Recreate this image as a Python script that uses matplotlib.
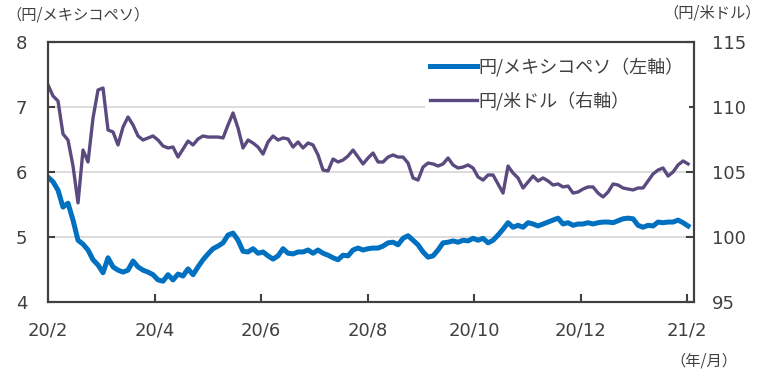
import numpy as np
import matplotlib as mpl
mpl.use('Agg')
import matplotlib.pyplot as plt

plt.rcParams['font.family'] = ['DejaVu Sans', 'Noto Sans CJK JP']

# 円/メキシコペソ (左軸)
peso = [5.92, 5.85, 5.72, 5.46, 5.52, 5.26, 4.95, 4.89, 4.80, 4.65,
        4.57, 4.45, 4.68, 4.54, 4.49, 4.46, 4.49, 4.63, 4.54, 4.49,
        4.46, 4.42, 4.34, 4.32, 4.42, 4.34, 4.43, 4.40, 4.51, 4.42,
        4.54, 4.65, 4.74, 4.82, 4.86, 4.91, 5.03, 5.06, 4.95, 4.78,
        4.77, 4.82, 4.75, 4.77, 4.71, 4.66, 4.71, 4.82, 4.75, 4.74,
        4.77, 4.77, 4.80, 4.75, 4.80, 4.75, 4.72, 4.68, 4.65, 4.72,
        4.71, 4.80, 4.83, 4.80, 4.82, 4.83, 4.83, 4.86, 4.91, 4.92,
        4.88, 4.98, 5.02, 4.95, 4.88, 4.77, 4.69, 4.71, 4.80, 4.91,
        4.92, 4.94, 4.92, 4.95, 4.94, 4.98, 4.95, 4.98, 4.91, 4.95,
        5.03, 5.12, 5.22, 5.15, 5.18, 5.15, 5.22, 5.20, 5.17, 5.20,
        5.23, 5.26, 5.29, 5.20, 5.22, 5.18, 5.20, 5.20, 5.22, 5.20,
        5.22, 5.23, 5.23, 5.22, 5.25, 5.28, 5.29, 5.28, 5.18, 5.15,
        5.18, 5.17, 5.23, 5.22, 5.23, 5.23, 5.26, 5.22, 5.17]

# 円/米ドル (右軸)
usd = [111.69, 110.85, 110.46, 107.92, 107.46, 105.46, 102.62, 106.69, 105.77, 109.15,
       111.31, 111.46, 108.23, 108.08, 107.08, 108.46, 109.23, 108.62, 107.77, 107.46,
       107.62, 107.77, 107.46, 107.00, 106.85, 106.92, 106.15, 106.77, 107.38, 107.08,
       107.54, 107.77, 107.69, 107.69, 107.69, 107.62, 108.62, 109.54, 108.38, 106.85,
       107.46, 107.23, 106.92, 106.38, 107.31, 107.77, 107.46, 107.62, 107.54, 106.92,
       107.31, 106.85, 107.23, 107.08, 106.31, 105.15, 105.08, 106.00, 105.77, 105.92,
       106.23, 106.69, 106.15, 105.62, 106.08, 106.46, 105.77, 105.77, 106.15, 106.31,
       106.15, 106.15, 105.69, 104.54, 104.38, 105.38, 105.69, 105.62, 105.46, 105.62,
       106.08, 105.54, 105.31, 105.38, 105.54, 105.31, 104.62, 104.38, 104.77, 104.77,
       104.08, 103.38, 105.46, 104.92, 104.54, 103.77, 104.23, 104.69, 104.31, 104.54,
       104.31, 104.00, 104.08, 103.85, 103.92, 103.38, 103.46, 103.69, 103.85, 103.85,
       103.38, 103.08, 103.46, 104.08, 104.00, 103.77, 103.69, 103.62, 103.77, 103.77,
       104.31, 104.85, 105.15, 105.31, 104.69, 105.00, 105.54, 105.85, 105.62]

tick_labels = ['20/2', '20/4', '20/6', '20/8', '20/10', '20/12', '21/2']

dark = '#404040'
jp = ['Noto Sans CJK JP', 'DejaVu Sans']

fig = plt.figure(figsize=(7.67, 3.74), dpi=100)
ax = fig.add_axes([0.0626, 0.1925, 0.8423, 0.6952])
ax2 = ax.twinx()

x = np.arange(len(peso))
l1, = ax.plot(x, peso, color='#0070C0', lw=3.6, solid_joinstyle='round',
              label='円/メキシコペソ（左軸）')
l2, = ax2.plot(x, usd, color='#5a4a80', lw=2.4, solid_joinstyle='round',
               label='円/米ドル（右軸）')

ax.set_xlim(0, 129.2)
ax.set_ylim(4, 8)
ax2.set_ylim(95, 115)
ax.set_yticks([4, 5, 6, 7, 8])
ax2.set_yticks([95, 100, 105, 110, 115])
ax.set_xticks(np.arange(7) * 21.3)
ax.set_xticklabels(tick_labels)

ax.yaxis.grid(True, color='#d9d9d9', lw=1.3)
ax.set_axisbelow(True)

for a in (ax, ax2):
    for s in a.spines.values():
        s.set_color(dark)
        s.set_linewidth(1.5)
ax.tick_params(axis='x', direction='in', length=6, width=1.5, color=dark,
               labelsize=13, labelcolor=dark, pad=14)
ax.tick_params(axis='y', direction='in', length=5, width=1.5, color=dark,
               labelsize=13, labelcolor=dark, pad=15)
ax2.tick_params(axis='y', direction='in', length=6, width=1.5, color=dark,
                labelsize=13, labelcolor=dark, pad=13)

leg = ax2.legend(handles=[l1, l2], loc='upper left', bbox_to_anchor=(0.569, 0.995),
                 frameon=True, facecolor='white', edgecolor='none', framealpha=1,
                 prop={'family': jp, 'size': 13}, handlelength=2.6,
                 handletextpad=0.1, labelspacing=0.8, borderpad=0.3)
leg.get_frame().set_boxstyle('square', pad=0)
for t in leg.get_texts():
    t.set_color(dark)
leg.set_zorder(10)

fig.text(0.008, 0.96, '（円/メキシコペソ）', family=jp, fontsize=11, color=dark,
         ha='left', va='center')
fig.text(0.992, 0.965, '（円/米ドル）', family=jp, fontsize=11, color=dark,
         ha='right', va='center')
fig.text(0.962, 0.035, '（年/月）', family=jp, fontsize=11, color=dark,
         ha='right', va='center')

fig.savefig('out.png', dpi=100)
